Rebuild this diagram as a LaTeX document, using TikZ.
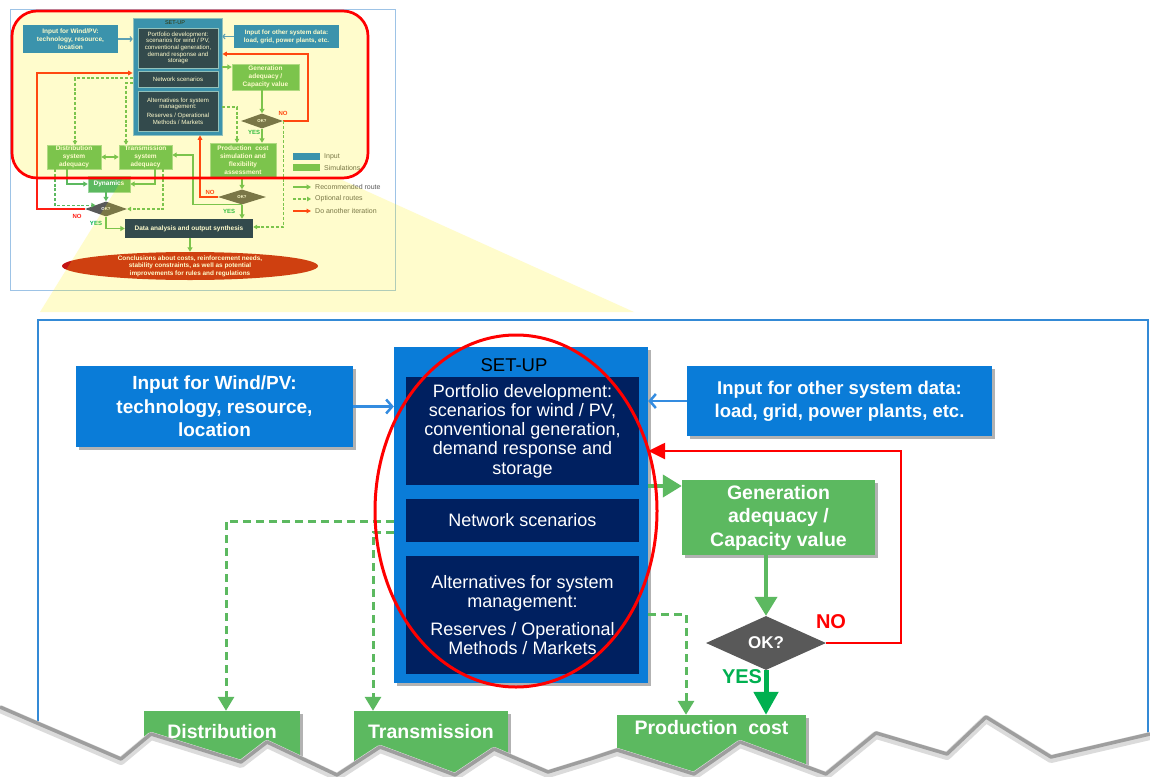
\documentclass[tikz,border=0pt]{standalone}
\usepackage{fontspec}
\setmainfont{Liberation Sans}
\usetikzlibrary{arrows.meta,shapes.geometric,shadows,calc}
\definecolor{Lblue}{RGB}{10,124,216}
\definecolor{Lnavy}{RGB}{0,32,96}
\definecolor{Lgreen}{RGB}{92,185,96}
\definecolor{Dgreen}{RGB}{0,176,80}
\definecolor{Lgrey}{RGB}{89,89,89}
\definecolor{Larrow}{RGB}{52,140,224}
\definecolor{Lframe}{RGB}{52,138,214}
\definecolor{Tframe}{RGB}{157,195,230}
\definecolor{Tconc}{RGB}{196,20,20}
\definecolor{Tred}{RGB}{255,30,20}
\tikzset{
 Lbold/.style={font=\fontsize{19}{23.5}\selectfont\bfseries, text=white, align=center, inner sep=0pt},
 Lreg/.style={font=\fontsize{18}{19.3}\selectfont, text=white, align=center, inner sep=0pt},
 Lshadow/.style={drop shadow={shadow xshift=3pt,shadow yshift=-3pt,opacity=0.3,fill=black}},
 Lbluebox/.style={fill=Lblue, Lshadow, Lbold},
 Lnavybox/.style={fill=Lnavy, Lreg},
 Lgreenbox/.style={fill=Lgreen, Lshadow, Lbold, font=\fontsize{19.5}{23.5}\selectfont\bfseries},
 Ldia/.style={diamond, fill=Lgrey, inner sep=0pt, font=\fontsize{17}{20}\selectfont\bfseries, text=white},
 Lgarrow/.style={draw=Lgreen, line width=4pt, -{Triangle[length=19pt,width=22pt]}},
 Dgarrow/.style={draw=Dgreen, line width=5pt, -{Triangle[length=23pt,width=24pt]}},
 Ldash/.style={draw=Lgreen, line width=3pt, dash pattern=on 8pt off 5pt, -{Triangle[length=14pt,width=16pt]}},
 Lred/.style={draw=red, line width=2.5pt, -{Triangle[length=17pt,width=16pt]}},
 Lbarrow/.style={draw=Larrow, line width=2.5pt, -{Straight Barb[length=6pt,width=14pt]}},
 Lno/.style={font=\fontsize{20}{22}\selectfont\bfseries, text=red, inner sep=0pt},
 Lyes/.style={font=\fontsize{20}{22}\selectfont\bfseries, text=Dgreen, inner sep=0pt},
 Tbold/.style={font=\fontsize{6.5}{8}\selectfont\bfseries, text=white, align=center, inner sep=0pt},
 Treg/.style={font=\fontsize{6.1}{6.7}\selectfont, text=white, align=center, inner sep=0pt},
 Tinner/.style={fill=Lnavy, draw=Lblue!55!white, line width=0.4pt, Treg},
 Tgbox/.style={fill=Lgreen, draw=Lgreen!60!white, line width=0.4pt, Tbold},
 Tg/.style={draw=Lgreen, line width=1.5pt, -{Triangle[length=4.5pt,width=5pt]}},
 Tdash/.style={draw=Lgreen, line width=1.2pt, dash pattern=on 3pt off 1.8pt, -{Triangle[length=4pt,width=4.5pt]}},
 Tr/.style={draw=Tred, line width=1.3pt, -{Triangle[length=4.5pt,width=4.5pt]}},
 Tb/.style={draw=Larrow, line width=1.1pt, -{Straight Barb[length=2pt,width=5pt]}},
 Tdia/.style={diamond, fill=Lgrey, inner sep=0pt, font=\fontsize{4.3}{5}\selectfont\bfseries, text=white},
 Tlab/.style={font=\fontsize{6}{7}\selectfont\bfseries, inner sep=0pt},
 Tleg/.style={font=\fontsize{7}{8}\selectfont, text=Lgrey, anchor=west, inner sep=0pt},
}
\begin{document}
\begin{tikzpicture}[x=1pt,y=-1pt]
\useasboundingbox (0,0) rectangle (1150,776);
\fill[white] (0,0) rectangle (1150,776);

% ---------------- thumbnail ----------------
\draw[fill=white, draw=Tframe, line width=1pt] (10,10) rectangle (395,290);

\node[fill=Lblue, Tbold, minimum width=95, minimum height=28] (tWind) at (70.5,39) {Input for Wind/PV:\\ technology, resource,\\ location};
\node[fill=Lblue, Tbold, font=\fontsize{6.3}{8}\selectfont\bfseries, minimum width=105, minimum height=23] (tOther) at (286.5,36.5) {Input for other system data:\\ load, grid, power plants, etc.};
\node[fill=Lblue, draw=Lblue!55!white, line width=0.6pt, minimum width=89, minimum height=117, inner sep=0pt] (tSetup) at (177.5,76.5) {};
\node[inner sep=0pt, font=\fontsize{5.5}{6}\selectfont] (tSetT) at (175,23) {SET-UP};
\node[Tinner, minimum width=80, minimum height=40] (tPort) at (178,48) {Portfolio development:\\ scenarios for wind / PV,\\ conventional generation,\\ demand response and\\ storage};
\node[Tinner, minimum width=80, minimum height=16] (tNet) at (178,79) {Network scenarios};
\node[Tinner, minimum width=80, minimum height=40] (tAlt) at (178,111) {Alternatives for system\\ management:\\[2pt] Reserves / Operational\\ Methods / Markets};
\node[Tgbox, minimum width=67, minimum height=26] (tGen) at (265.5,77) {Generation\\ adequacy /\\ Capacity value};
\node[Tdia, minimum width=42, minimum height=15] (tDia1) at (262,121) {OK?};
\node[Tgbox, minimum width=66, minimum height=34] (tProd) at (243,160) {Production\ \ cost\\ simulation and\\ flexibility\\ assessment};
\node[Tdia, minimum width=48, minimum height=15] (tDia2) at (242,197) {OK?};
\node[fill=Lnavy, Tbold, minimum width=128, minimum height=19] (tData) at (189,228.5) {Data analysis and output synthesis};
\node[ellipse, fill=Tconc, inner sep=0pt, minimum width=256, minimum height=28] (tConc) at (190,266) {};
\node[Tbold, font=\fontsize{6.4}{7.4}\selectfont\bfseries] (tConcT) at (tConc.center) {Conclusions about costs, reinforcement needs,\\ stability constraints, as well as potential\\ improvements for rules and regulations};
\node[Tgbox, minimum width=54, minimum height=24] (tDist) at (74,157) {Distribution\\ system\\ adequacy};
\node[Tgbox, minimum width=53, minimum height=24] (tTrans) at (145.5,157) {Transmission\\ system\\ adequacy};
\node[Tgbox, minimum width=42, minimum height=16] (tDyn) at (109,184) {Dynamics};
\node[Tdia, minimum width=42, minimum height=15] (tDia3) at (106,209) {OK?};

\node[Tlab, text=Tred] (tNo1) at (283,113) {NO};
\node[Tlab, text=Dgreen] (tYes1) at (254,132) {YES};
\node[Tlab, text=Tred] (tNo2) at (210,192) {NO};
\node[Tlab, text=Dgreen] (tYes2) at (229,211) {YES};
\node[Tlab, text=Tred] (tNo3) at (77,216) {NO};
\node[Tlab, text=Dgreen] (tYes3) at (96,223) {YES};

% legend
\node[fill=Lblue, minimum width=27, minimum height=7, inner sep=0pt] (tLin) at (306.5,156.5) {};
\node[Tleg] (tLinT) at (324,156.5) {Input};
\node[fill=Lgreen, minimum width=27, minimum height=7, inner sep=0pt] (tLsim) at (306.5,167.5) {};
\node[Tleg] (tLsimT) at (324,167.5) {Simulations};
\node[Tleg] (tLrec) at (315,187) {Recommended route};
\node[Tleg] (tLopt) at (315,199) {Optional routes};
\node[Tleg] (tLdo) at (315,211) {Do another iteration};
\draw[Tg] ($(tLrec.west)+(-22,0)$) -- ($(tLrec.west)+(-4,0)$);
\draw[Tdash] ($(tLopt.west)+(-22,0)$) -- ($(tLopt.west)+(-4,0)$);
\draw[Tr] ($(tLdo.west)+(-22,0)$) -- ($(tLdo.west)+(-4,0)$);

% thumbnail connectors
\draw[Tb] (tWind.east) -- (tWind.east -| tSetup.west);
\draw[Tb] (tOther.west) -- (tOther.west -| tSetup.east);
\coordinate (tr1) at (308,54);
\draw[Tr] (tDia1.east) -| (tr1) -- (tr1 -| tSetup.east);
\coordinate (tg0) at (0,67);
\draw[Tg] (tg0 -| tSetup.east) -- (tg0 -| tGen.west);
\draw[Tg] (tDia1.north |- tGen.south) -- (tDia1.north);
\draw[Tg] (tDia1.south) -- (tDia1.south |- tProd.north);
\coordinate (td1) at (237,107);
\draw[Tdash] (td1 -| tSetup.east) -| (td1 |- tProd.north);
\coordinate (td2) at (283,227);
\draw[Tdash] (tDia1.east) -- (tDia1.east |- td2) -- (td2 -| tData.east);
\draw[Tg] (tDia2.north |- tProd.south) -- (tDia2.north);
\coordinate (tr2) at (200,0);
\draw[Tr] (tDia2.west) -| (tr2 |- tSetup.south);
\draw[Tg] (tDia2.south) -- (tDia2.south |- tData.north);
\coordinate (tg1) at (193,155);
\draw[Tg] (tDia2.south) -| (tg1) -- (tg1 -| tTrans.east);
\draw[Tg, {Triangle[length=4.5pt,width=5pt]}-{Triangle[length=4.5pt,width=5pt]}] (tDist.east) -- (tTrans.west);
\coordinate (td3) at (75,78);
\draw[Tdash] (td3 -| tSetup.west) -| (td3 |- tDist.north);
\coordinate (td4) at (126,83);
\draw[Tdash] (td4 -| tSetup.west) -| (td4 |- tTrans.north);
\coordinate (tr3) at (37,73);
\draw[Tr] (tDia3.west) -| (tr3) -- (tr3 -| tSetup.west);
\coordinate (tg2) at (67,0);
\draw[Tg] (tg2 |- tDist.south) |- (tDyn.west);
\coordinate (tg3) at (155,0);
\draw[Tg] (tg3 |- tTrans.south) |- (tDyn.east);
\coordinate (td5) at (55,0);
\draw[Tdash] (td5 |- tDist.south) |- (tDia3.north west);
\coordinate (td6) at (163,0);
\draw[Tdash] (td6 |- tTrans.south) |- (tDia3.east);
\draw[Tg] (tDia3.north |- tDyn.south) -- (tDia3.north);
\draw[Tg] (tDia3.south) |- (tData.west);
\draw[Tg] (tConc.north |- tData.south) -- (tConc.north);

% yellow highlight and callout
\fill[yellow, opacity=0.2, rounded corners=25pt] (12,11) -- (368,11) -- (368,178) -- (12,178) -- cycle [sharp corners] (128,170) -- (320,170) -- (634,312) -- (40,312) -- cycle;
\draw[red, line width=2.7pt, rounded corners=25pt] (12,11) rectangle (368,178);

% ---------------- large view ----------------
\draw[Lframe, line width=1.2pt] (38,776) -- (38,320) -- (1148,320) -- (1148,776);

\node[Lbluebox, minimum width=277, minimum height=81] (wind) at (214.5,406.5) {Input for Wind/PV:\\ technology, resource,\\ location};
\node[Lbluebox, font=\fontsize{18.5}{23}\selectfont\bfseries, minimum width=305, minimum height=70] (other) at (839.5,401) {Input for other system data:\\ load, grid, power plants, etc.};
\node[fill=Lblue, Lshadow, minimum width=254, minimum height=336, inner sep=0pt] (setup) at (521,515) {};
\node[inner sep=0pt, font=\fontsize{18.5}{20}\selectfont] (settitle) at (514,365) {SET-UP};
\node[Lnavybox, minimum width=233, minimum height=108] (portf) at (522.5,431) {Portfolio development:\\ scenarios for wind / PV,\\ conventional generation,\\ demand response and\\ storage};
\node[Lnavybox, minimum width=233, minimum height=43] (netw) at (522.5,520.5) {Network scenarios};
\node[Lnavybox, minimum width=233, minimum height=118] (alt) at (522.5,615) {Alternatives for system\\ management:\\[8pt] Reserves / Operational\\ Methods / Markets};
\node[Lgreenbox, minimum width=193, minimum height=75] (gen) at (778.5,517.5) {Generation\\ adequacy /\\ Capacity value};
\node[Ldia, minimum width=120, minimum height=54] (dia) at (766,643) {OK?};
\node[Lgreenbox, minimum width=189, text height=19pt, text depth=71pt] (prod) at (711.5,760) {Production\ \ cost};
\node[Lgreenbox, minimum width=156, text height=27pt, text depth=63pt] (dist) at (222,756) {Distribution};
\node[Lgreenbox, minimum width=154, text height=27pt, text depth=63pt] (trans) at (431,756) {Transmission};
\node[Lno] (no) at (831,622) {NO};
\node[Lyes] (yes) at (742,677) {YES};

\draw[Lbarrow] (wind.east) -- (wind.east -| setup.west);
\draw[Lbarrow] (other.west) -- (other.west -| setup.east);
\coordinate (rc) at (901,451);
\draw[Lred] (dia.east) -| (rc) -- (rc -| setup.east);
\coordinate (gc) at (0,486);
\draw[Lgarrow] (gc -| setup.east) -- (gc -| gen.west);
\draw[Lgarrow] (dia.north |- gen.south) -- (dia.north);
\draw[Dgarrow] (dia.south) -- (dia.south |- prod.north);
\coordinate (dc1) at (686,614);
\draw[Ldash] (dc1 -| setup.east) -| (dc1 |- prod.north);
\coordinate (dc2) at (226,521);
\draw[Ldash] (dc2 -| setup.west) -| (dc2 |- dist.north);
\coordinate (dc3) at (373,532);
\draw[Ldash] (dc3 -| setup.west) -| (dc3 |- trans.north);

\node[draw=red, line width=3pt, ellipse, minimum width=282, minimum height=352, inner sep=0pt] (hl) at (516,511) {};

% torn edge
\fill[white] (0,705) -- (30,718) -- (121,757) -- (151,732) -- (241,760) -- (267,740) -- (337,773) -- (380,745) -- (455,773) -- (494,747) -- (548,770) -- (590,757) -- (617,748) -- (694,772) -- (740,740) -- (826,772) -- (876,731) -- (947,752) -- (986,715) -- (1051,755) -- (1150,732) -- (1160,732) -- (1160,830) -- (-10,830) -- (-10,705) -- cycle;
\draw[black!14, line width=8pt, line join=round, shift={(0,4)}] (0,705) -- (30,718) -- (121,757) -- (151,732) -- (241,760) -- (267,740) -- (337,773) -- (380,745) -- (455,773) -- (494,747) -- (548,770) -- (590,757) -- (617,748) -- (694,772) -- (740,740) -- (826,772) -- (876,731) -- (947,752) -- (986,715) -- (1051,755) -- (1150,732);
\draw[black!38, line width=3.5pt, line join=round, shift={(0,2)}] (0,705) -- (30,718) -- (121,757) -- (151,732) -- (241,760) -- (267,740) -- (337,773) -- (380,745) -- (455,773) -- (494,747) -- (548,770) -- (590,757) -- (617,748) -- (694,772) -- (740,740) -- (826,772) -- (876,731) -- (947,752) -- (986,715) -- (1051,755) -- (1150,732);
\end{tikzpicture}
\end{document}
